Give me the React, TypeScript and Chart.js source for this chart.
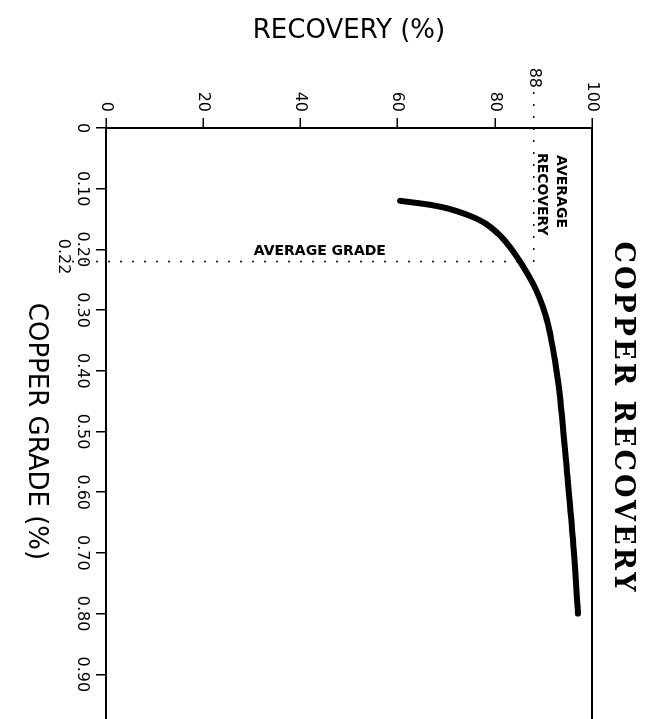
import { useEffect, useRef } from "react";
import { Chart, registerables } from "chart.js";

Chart.register(...registerables);

// Copper grade (%) along the curve
const GRADE = [0.12, 0.123, 0.127, 0.133, 0.142, 0.155, 0.175, 0.196, 0.22, 0.24, 0.26, 0.28, 0.31, 0.34, 0.37, 0.4, 0.45, 0.5, 0.56, 0.67, 0.8];
// Copper recovery (%) at each grade
const RECOVERY = [60.5, 63.5, 67, 70.5, 74, 77.6, 80.8, 83.1, 85.2, 86.7, 88.1, 89.2, 90.5, 91.4, 92.1, 92.7, 93.5, 94.1, 94.8, 96.0, 97.1];

const GRADE_TICKS = [0, 0.1, 0.2, 0.3, 0.4, 0.5, 0.6, 0.7, 0.8, 0.9, 1.0];
const RECOVERY_TICKS = [0, 20, 40, 60, 80, 100];

const AVG_GRADE = 0.22;
const AVG_RECOVERY = 88;

const TITLE = "COPPER RECOVERY";
const X_TITLE = "COPPER GRADE (%)";
const Y_TITLE = "RECOVERY (%)";
const AVG_GRADE_LABEL = "AVERAGE GRADE";
const AVG_RECOVERY_LABEL = ["AVERAGE", "RECOVERY"];

function recoveryAt(g: number): number {
  for (let i = 0; i < GRADE.length - 1; i++) {
    if (g >= GRADE[i] && g <= GRADE[i + 1]) {
      const t = (g - GRADE[i]) / (GRADE[i + 1] - GRADE[i]);
      return RECOVERY[i] + t * (RECOVERY[i + 1] - RECOVERY[i]);
    }
  }
  return RECOVERY[RECOVERY.length - 1];
}

const SANS = "'DejaVu Sans', sans-serif";

const annotations = {
  id: "annotations",
  afterDatasetsDraw(chart: any) {
    const { ctx, chartArea, scales } = chart;
    const x = scales.x;
    const y = scales.y;
    ctx.save();
    // frame
    ctx.strokeStyle = "#000";
    ctx.lineWidth = 2;
    ctx.setLineDash([]);
    ctx.strokeRect(chartArea.left, chartArea.top, chartArea.right - chartArea.left, chartArea.bottom - chartArea.top);

    // dotted reference lines
    ctx.lineWidth = 2;
    ctx.lineCap = "round";
    ctx.setLineDash([0, 12]);
    const gx = x.getPixelForValue(AVG_GRADE);
    const ry = y.getPixelForValue(AVG_RECOVERY);
    ctx.beginPath();
    ctx.moveTo(gx, chartArea.bottom + 33);
    ctx.lineTo(gx, y.getPixelForValue(recoveryAt(AVG_GRADE)));
    ctx.stroke();
    ctx.beginPath();
    ctx.moveTo(chartArea.left - 35, ry);
    ctx.lineTo(gx, ry);
    ctx.stroke();
    ctx.setLineDash([]);

    ctx.fillStyle = "#000";
    // extra tick labels
    ctx.font = `16px ${SANS}`;
    ctx.textAlign = "right";
    ctx.textBaseline = "middle";
    ctx.fillText(String(AVG_RECOVERY), chartArea.left - 40, ry);
    ctx.textAlign = "center";
    ctx.textBaseline = "top";
    ctx.fillText(AVG_GRADE.toFixed(2), gx - 5, chartArea.bottom + 35);

    // average recovery label
    ctx.font = `bold 14px ${SANS}`;
    ctx.textAlign = "left";
    ctx.textBaseline = "middle";
    ctx.fillText(AVG_RECOVERY_LABEL[0], chartArea.left + 27, ry - 27);
    ctx.fillText(AVG_RECOVERY_LABEL[1], chartArea.left + 25, ry - 8);

    // average grade label (rotated)
    ctx.save();
    ctx.translate(gx - 10, y.getPixelForValue(44));
    ctx.rotate(-Math.PI / 2);
    ctx.textAlign = "center";
    ctx.textBaseline = "middle";
    ctx.fillText(AVG_GRADE_LABEL, 0, 0);
    ctx.restore();

    // main title
    ctx.font = "bold 27px 'DejaVu Serif', serif";
    (ctx as any).letterSpacing = "3px";
    ctx.textAlign = "center";
    ctx.textBaseline = "middle";
    ctx.fillText(TITLE, chartArea.left + 290, 33);
    ctx.restore();
  },
};

export default function App() {
  const ref = useRef<HTMLCanvasElement | null>(null);

  useEffect(() => {
    if (!ref.current) return;
    const chart = new Chart(ref.current, {
      type: "scatter",
      data: {
        datasets: [
          {
            label: "Copper recovery",
            data: GRADE.map((g, i) => ({ x: g, y: RECOVERY[i] })),
            showLine: true,
            borderColor: "#000",
            backgroundColor: "#000",
            borderWidth: 6,
            borderCapStyle: "round",
            pointRadius: 0,
            cubicInterpolationMode: "monotone",
          } as any,
        ],
      },
      options: {
        responsive: false,
        animation: false,
        devicePixelRatio: 1,
        layout: { padding: { top: 63, right: 25, left: 0, bottom: 0 } },
        plugins: {
          legend: { display: false },
          tooltip: { enabled: false },
          title: { display: false },
        },
        scales: {
          x: {
            type: "linear",
            min: 0,
            max: 1.0,
            afterBuildTicks: (s: any) => {
              s.ticks = GRADE_TICKS.map((value) => ({ value }));
            },
            afterFit: (s: any) => {
              s.height = 106;
            },
            ticks: {
              autoSkip: false,
              maxRotation: 0,
              minRotation: 0,
              padding: 4,
              color: "#000",
              font: { family: SANS, size: 16 },
              callback: (v: any) => (Number(v) === 0 ? "0" : Number(v).toFixed(2)),
            },
            grid: { drawOnChartArea: false, drawTicks: true, tickLength: 10, color: "#000", lineWidth: 1.5 },
            border: { display: true, color: "#000", width: 2 },
            title: {
              display: true,
              text: X_TITLE,
              color: "#000",
              font: { family: SANS, size: 26 },
              padding: { top: 0, bottom: 20 },
            },
          },
          y: {
            type: "linear",
            min: 0,
            max: 100,
            afterBuildTicks: (s: any) => {
              s.ticks = RECOVERY_TICKS.map((value) => ({ value }));
            },
            afterFit: (s: any) => {
              s.width = 128;
            },
            ticks: {
              autoSkip: false,
              padding: 6,
              color: "#000",
              font: { family: SANS, size: 16 },
              callback: (v: any) => String(v),
            },
            grid: { drawOnChartArea: false, drawTicks: true, tickLength: 10, color: "#000", lineWidth: 1.5 },
            border: { display: true, color: "#000", width: 2 },
            title: {
              display: true,
              text: Y_TITLE,
              color: "#000",
              font: { family: SANS, size: 26 },
              padding: { top: 16, bottom: 0 },
            },
          },
        },
      },
      plugins: [annotations],
    } as any);
    return () => chart.destroy();
  }, []);

  return (
    <div
      style={{
        position: "fixed",
        left: 0,
        top: 0,
        width: 655,
        height: 719,
        overflow: "hidden",
        background: "#fff",
      }}
    >
      <div
        style={{
          position: "absolute",
          left: 0,
          top: 0,
          width: 760,
          height: 655,
          transformOrigin: "0 0",
          transform: "translate(655px, 0px) rotate(90deg)",
        }}
      >
        <canvas ref={ref} width={760} height={655} style={{ display: "block", width: 760, height: 655 }} />
      </div>
    </div>
  );
}
